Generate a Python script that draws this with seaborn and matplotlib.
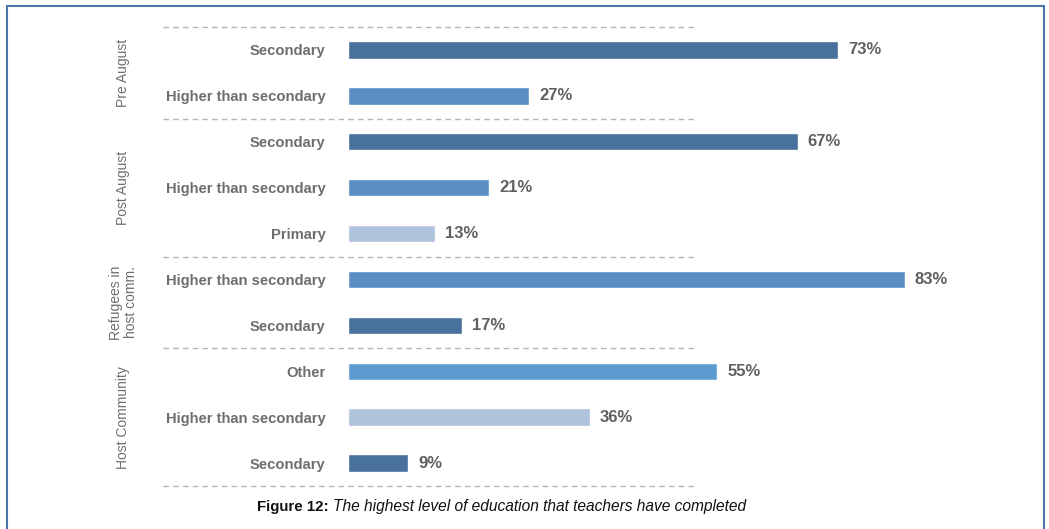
import pandas as pd
import numpy as np
import seaborn as sns
import matplotlib.pyplot as plt
from matplotlib.patches import Rectangle

# data
groups = ['Pre August', 'Post August', 'Refugees in\nhost comm.', 'Host Community']
group_levels = [
    ['Secondary', 'Higher than secondary'],
    ['Secondary', 'Higher than secondary', 'Primary'],
    ['Higher than secondary', 'Secondary'],
    ['Other', 'Higher than secondary', 'Secondary'],
]
group_values = [
    [73, 27],
    [67, 21, 13],
    [83, 17],
    [55, 36, 9],
]
group_colors = [
    ['#48719c', '#5a8ec2'],
    ['#48719c', '#5a8ec2', '#b0c3dc'],
    ['#5a8ec2', '#48719c'],
    ['#5c9bd2', '#b0c3dc', '#48719c'],
]
caption_bold = 'Figure 12:'
caption_rest = 'The highest level of education that teachers have completed'

# build a long table, one row per bar
rows = []
for g, levels, vals, cols in zip(groups, group_levels, group_values, group_colors):
    for lev, v, c in zip(levels, vals, cols):
        rows.append({'group': g, 'level': lev, 'value': v, 'color': c})
df = pd.DataFrame(rows)
df['row'] = [f'{i}|{lev}' for i, lev in enumerate(df['level'])]
palette = dict(zip(df['row'], df['color']))

sns.set_style('white')
plt.rcParams['font.family'] = ['Liberation Sans', 'DejaVu Sans']

fig = plt.figure(figsize=(10.49, 5.29), dpi=100)
ax = fig.add_axes([348 / 1049, 1 - 486 / 529, 671 / 1049, 459 / 529])

sns.barplot(data=df, x='value', y='row', hue='row', palette=palette,
            width=0.38, legend=False, ax=ax, orient='h', saturation=1)

ax.set_xlim(0, 100)
ax.set_ylim(len(df) - 0.5, -0.5)
sns.despine(ax=ax, left=True, bottom=True)
ax.set_xticks([])
ax.set_xlabel('')
ax.set_ylabel('')
ax.set_yticks(range(len(df)))
ax.set_yticklabels(df['level'], fontweight='bold', fontsize=10.6,
                   color='#6d6e71')
ax.tick_params(axis='y', length=0, pad=16)

# value labels
for i, v in enumerate(df['value']):
    ax.text(v + 1.5, i, f'{v}%', va='center', ha='left', fontsize=12,
            fontweight='bold', color='#5f6062')

# dashed separators and rotated group labels
start = 0
bounds = [-0.5]
for g, vals in zip(groups, group_values):
    n = len(vals)
    mid = start + (n - 1) / 2
    ax.text(-33.5, mid, g, rotation=90, ha='center', va='center',
            fontsize=10, color='#6d6e71', linespacing=1.1)
    start += n
    bounds.append(start - 0.5)
for b in bounds:
    ax.plot([-27.6, 52], [b, b], color='#b5b5b5', lw=1, ls=(0, (4, 3)),
            clip_on=False)

# caption
fig.text(329 / 1049, 1 - 507 / 529, caption_bold, ha='right', va='center',
         fontsize=10.8, fontweight='bold', color='#111111')
fig.text(333 / 1049, 1 - 507 / 529, caption_rest, ha='left', va='center',
         fontsize=11.2, style='italic', color='#111111')

# outer frame
fig.patches.append(Rectangle((7 / 1049, -0.05), 1037 / 1049, 1.05 - 6 / 529,
                             transform=fig.transFigure, fill=False,
                             edgecolor='#4c76aa', lw=1.5))

fig.savefig('out.png', dpi=100)
